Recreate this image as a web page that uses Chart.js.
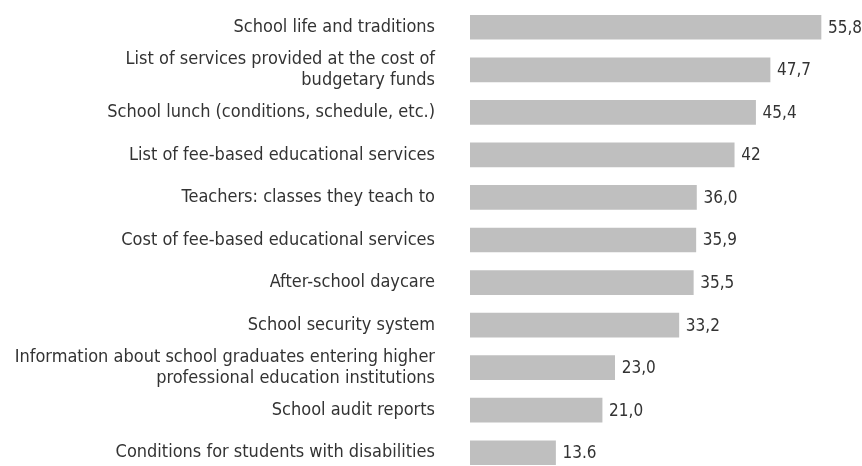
<!DOCTYPE html>
<html>
<head>
<meta charset="utf-8">
<script src="https://cdn.jsdelivr.net/npm/chart.js@4"></script>
<style>
    html, body { margin: 0; padding: 0; background: #fff; overflow: hidden; }
    #caixa { position: relative; width: 862px; height: 480px; }
</style>
</head>
<body>
<div id="caixa"><canvas id="grafico"></canvas></div>
<script>
const categorias = [
    'School life and traditions',
    ['List of services provided at the cost of', 'budgetary funds'],
    'School lunch (conditions, schedule, etc.)',
    'List of fee-based educational services',
    'Teachers: classes they teach to',
    'Cost of fee-based educational services',
    'After-school daycare',
    'School security system',
    ['Information about school graduates entering higher', 'professional education institutions'],
    'School audit reports',
    'Conditions for students with disabilities'
];
const valores = [55.8, 47.7, 45.4, 42, 36.0, 35.9, 35.5, 33.2, 23.0, 21.0, 13.6];
const rotulos = ['55,8', '47,7', '45,4', '42', '36,0', '35,9', '35,5', '33,2', '23,0', '21,0', '13.6'];

const fonte = "'Liberation Sans Narrow', 'DejaVu Sans Condensed', 'Roboto', sans-serif";

// escreve o valor ao lado de cada barra
const rotuloBarras = {
    id: 'rotuloBarras',
    afterDatasetsDraw(chart) {
        const ctx = chart.ctx;
        const meta = chart.getDatasetMeta(0);
        ctx.save();
        ctx.font = '17px ' + fonte;
        ctx.fillStyle = '#333333';
        ctx.textAlign = 'left';
        ctx.textBaseline = 'middle';
        meta.data.forEach((barra, i) => {
            ctx.fillText(rotulos[i], barra.x + 7, barra.y + 1);
        });
        ctx.restore();
    }
};

const canva = document.getElementById('grafico').getContext('2d');
new Chart(canva, {
    type: 'bar',
    data: {
        labels: categorias,
        datasets: [{
            data: valores,
            backgroundColor: '#bfbfbf',
            barThickness: 24
        }]
    },
    options: {
        indexAxis: 'y',
        responsive: true,
        maintainAspectRatio: false,
        animation: false,
        layout: { padding: { left: 0, right: 2, top: 6, bottom: 6 } },
        plugins: { legend: { display: false }, tooltip: { enabled: false } },
        scales: {
            x: {
                min: 0,
                max: 62,
                display: false
            },
            y: {
                grid: { display: false, drawTicks: false },
                border: { display: false },
                ticks: {
                    autoSkip: false,
                    padding: 35,
                    color: '#333333',
                    font: { family: fonte, size: 18, lineHeight: 1.2 }
                },
                afterFit(scale) {
                    scale.width = 470;
                    scale.paddingTop = 0;
                    scale.paddingBottom = 0;
                }
            }
        }
    },
    plugins: [rotuloBarras]
});
</script>
</body>
</html>
